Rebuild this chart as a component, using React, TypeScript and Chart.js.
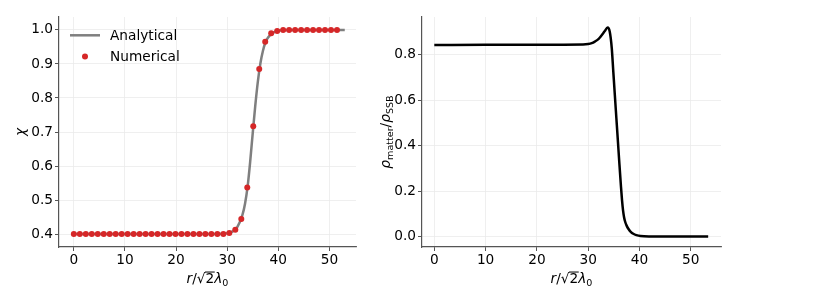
import React, { useEffect, useRef } from "react";
import { Chart, registerables } from "chart.js";

Chart.register(...registerables);

// ---------- data ----------
const X_TICKS = [0, 10, 20, 30, 40, 50];
const CHI_TICKS = [0.4, 0.5, 0.6, 0.7, 0.8, 0.9, 1.0];
const RHO_TICKS = [0.0, 0.2, 0.4, 0.6, 0.8];

// left panel: analytical curve
const rAnalytic = [0, 10, 20, 28, 30, 31, 32, 33, 33.5, 34, 34.5, 35, 35.5, 36, 36.5, 37, 37.5, 38, 39, 40, 41, 42, 45, 53];
const chiAnalytic = [0.4, 0.4, 0.4, 0.4005, 0.4025, 0.407, 0.421, 0.457, 0.49, 0.54, 0.613, 0.697, 0.778, 0.848, 0.902, 0.939, 0.964, 0.978, 0.992, 0.998, 0.9993, 0.9998, 1.0, 1.0];

// left panel: numerical samples
const rNumerical = [0, 1.17, 2.34, 3.51, 4.68, 5.85, 7.02, 8.19, 9.36, 10.53, 11.7, 12.87, 14.04, 15.21, 16.38, 17.55, 18.72, 19.89, 21.06, 22.23, 23.4, 24.57, 25.74, 26.91, 28.08, 29.25, 30.42, 31.59, 32.76, 33.93, 35.1, 36.27, 37.44, 38.61, 39.78, 40.95, 42.12, 43.29, 44.46, 45.63, 46.8, 47.97, 49.14, 50.31, 51.48];
const chiNumerical = [0.4, 0.4, 0.4, 0.4, 0.4, 0.4, 0.4, 0.4, 0.4, 0.4, 0.4, 0.4, 0.4, 0.4, 0.4, 0.4, 0.4, 0.4, 0.4, 0.4, 0.4, 0.4, 0.4, 0.4, 0.4, 0.4, 0.403, 0.413, 0.444, 0.537, 0.717, 0.885, 0.965, 0.99, 0.997, 1.0, 1.0, 1.0, 1.0, 1.0, 1.0, 1.0, 1.0, 1.0, 1.0];

// right panel: matter density ratio
const rRho = [0, 10, 20, 29, 30, 30.7, 31.3, 32, 32.6, 33.2, 33.8, 34.2, 34.6, 34.9, 35.2, 35.5, 35.8, 36.1, 36.4, 36.6, 36.8, 37.0, 37.2, 37.5, 37.9, 38.3, 38.8, 39.4, 40.2, 42, 53.4];
const rhoRatio = [0.842, 0.843, 0.843, 0.844, 0.846, 0.85, 0.857, 0.868, 0.884, 0.902, 0.919, 0.901, 0.828, 0.725, 0.622, 0.52, 0.418, 0.316, 0.218, 0.16, 0.115, 0.085, 0.066, 0.048, 0.032, 0.021, 0.012, 0.006, 0.002, 0.0005, 0.0];

// ---------- styling ----------
const FONT = '"DejaVu Sans", sans-serif';
const FS = 13.7;
const SPINE = "#555555";
const GRID = "#ebebeb";
const GRAY = "#7f7f7f";
const RED = "#d62728";

type Piece = { t: string; it?: boolean; sub?: boolean; over?: boolean };

function drawMath(ctx: CanvasRenderingContext2D, pieces: Piece[], cx: number, by: number, rot: number, size: number) {
  ctx.save();
  ctx.translate(cx, by);
  ctx.rotate(rot);
  ctx.fillStyle = "#000";
  ctx.strokeStyle = "#000";
  ctx.textBaseline = "alphabetic";
  ctx.textAlign = "left";
  const fontOf = (p: Piece) => `${p.it ? "italic " : ""}${p.sub ? size * 0.7 : size}px ${FONT}`;
  const widths = pieces.map((p) => {
    ctx.font = fontOf(p);
    return ctx.measureText(p.t).width;
  });
  const total = widths.reduce((a, b) => a + b, 0);
  let x = -total / 2;
  pieces.forEach((p, i) => {
    ctx.font = fontOf(p);
    const y = p.sub ? size * 0.22 : 0;
    ctx.fillText(p.t, x, y);
    if (p.over) {
      ctx.lineWidth = 1;
      ctx.beginPath();
      ctx.moveTo(x - 0.5, -size * 0.8);
      ctx.lineTo(x + widths[i] + 0.5, -size * 0.8);
      ctx.stroke();
    }
    x += widths[i];
  });
  ctx.restore();
}

const xLabel: Piece[] = [
  { t: "r", it: true },
  { t: "/" },
  { t: "\u221A" },
  { t: "2", over: true },
  { t: "\u03BB", it: true },
  { t: "0", sub: true },
];

function makeScales(xmin: number, xmax: number, ymin: number, ymax: number, yTicks: number[], yWidth: number) {
  const common = {
    type: "linear" as const,
    grid: { color: GRID, lineWidth: 0.8, drawTicks: true, tickLength: 4, tickColor: SPINE, tickWidth: 1 },
    border: { display: true, color: SPINE, width: 1.2 },
  };
  return {
    x: {
      ...common,
      min: xmin,
      max: xmax,
      afterBuildTicks: (s: any) => {
        s.ticks = X_TICKS.map((v) => ({ value: v }));
      },
      afterFit: (s: any) => {
        s.height = 58;
      },
      ticks: { color: "#000", font: { family: FONT, size: FS }, padding: 1, maxRotation: 0, autoSkip: false, callback: (v: any) => String(v) },
    },
    y: {
      ...common,
      min: ymin,
      max: ymax,
      afterBuildTicks: (s: any) => {
        s.ticks = yTicks.map((v) => ({ value: v }));
      },
      afterFit: (s: any) => {
        s.width = yWidth;
      },
      ticks: { color: "#000", font: { family: FONT, size: FS }, padding: 2, autoSkip: false, callback: (v: any) => Number(v).toFixed(1) },
    },
  };
}

export default function App() {
  const leftRef = useRef<HTMLCanvasElement>(null);
  const rightRef = useRef<HTMLCanvasElement>(null);

  useEffect(() => {
    const leftPlugin = {
      id: "leftLabels",
      afterDraw(chart: any) {
        const ctx = chart.ctx as CanvasRenderingContext2D;
        const a = chart.chartArea;
        drawMath(ctx, xLabel, (a.left + a.right) / 2, 283, 0, FS);
        drawMath(ctx, [{ t: "\u03C7", it: true }], 24.5, (a.top + a.bottom) / 2, -Math.PI / 2, FS);
        // legend
        ctx.save();
        ctx.strokeStyle = GRAY;
        ctx.lineWidth = 2.5;
        ctx.beginPath();
        ctx.moveTo(70, 35.3);
        ctx.lineTo(100, 35.3);
        ctx.stroke();
        ctx.fillStyle = RED;
        ctx.beginPath();
        ctx.arc(85, 56.5, 3, 0, Math.PI * 2);
        ctx.fill();
        ctx.fillStyle = "#000";
        ctx.font = `${FS}px ${FONT}`;
        ctx.textBaseline = "alphabetic";
        ctx.textAlign = "left";
        ctx.fillText("Analytical", 110, 40);
        ctx.fillText("Numerical", 110, 61);
        ctx.restore();
      },
    };
    const rightPlugin = {
      id: "rightLabels",
      afterDraw(chart: any) {
        const ctx = chart.ctx as CanvasRenderingContext2D;
        const a = chart.chartArea;
        drawMath(ctx, xLabel, (a.left + a.right) / 2, 283, 0, FS);
        drawMath(
          ctx,
          [
            { t: "\u03C1", it: true },
            { t: "matter", sub: true },
            { t: "/" },
            { t: "\u03C1", it: true },
            { t: "SSB", sub: true },
          ],
          29.5,
          (a.top + a.bottom) / 2,
          -Math.PI / 2,
          FS
        );
      },
    };

    const c1 = new Chart(leftRef.current as HTMLCanvasElement, {
      type: "scatter",
      data: {
        datasets: [
          {
            label: "Analytical",
            data: rAnalytic.map((r, i) => ({ x: r, y: chiAnalytic[i] })),
            showLine: true,
            borderColor: GRAY,
            borderWidth: 2.5,
            pointRadius: 0,
            cubicInterpolationMode: "monotone",
            order: 2,
          } as any,
          {
            label: "Numerical",
            data: rNumerical.map((r, i) => ({ x: r, y: chiNumerical[i] })),
            showLine: false,
            backgroundColor: RED,
            borderWidth: 0,
            pointRadius: 3,
            order: 1,
          } as any,
        ],
      },
      options: {
        responsive: false,
        animation: false,
        layout: { padding: { top: 17, left: 0, right: 2, bottom: 0 } },
        plugins: { legend: { display: false }, tooltip: { enabled: false } },
        scales: makeScales(-2.9, 55.2, 0.362, 1.038, CHI_TICKS, 59) as any,
      },
      plugins: [leftPlugin],
    });

    const c2 = new Chart(rightRef.current as HTMLCanvasElement, {
      type: "scatter",
      data: {
        datasets: [
          {
            label: "rho",
            data: rRho.map((r, i) => ({ x: r, y: rhoRatio[i] })),
            showLine: true,
            borderColor: "#000",
            borderWidth: 2.5,
            pointRadius: 0,
            cubicInterpolationMode: "monotone",
          } as any,
        ],
      },
      options: {
        responsive: false,
        animation: false,
        layout: { padding: { top: 17, left: 0, right: 109, bottom: 0 } },
        plugins: { legend: { display: false }, tooltip: { enabled: false } },
        scales: makeScales(-2.4, 55.9, -0.046, 0.965, RHO_TICKS, 62) as any,
      },
      plugins: [rightPlugin],
    });

    return () => {
      c1.destroy();
      c2.destroy();
    };
  }, []);

  return (
    <div style={{ position: "absolute", left: 0, top: 0, width: 830, height: 305, background: "#fff" }}>
      <canvas ref={leftRef} width={360} height={305} style={{ position: "absolute", left: 0, top: 0 }} />
      <canvas ref={rightRef} width={470} height={305} style={{ position: "absolute", left: 360, top: 0 }} />
    </div>
  );
}
